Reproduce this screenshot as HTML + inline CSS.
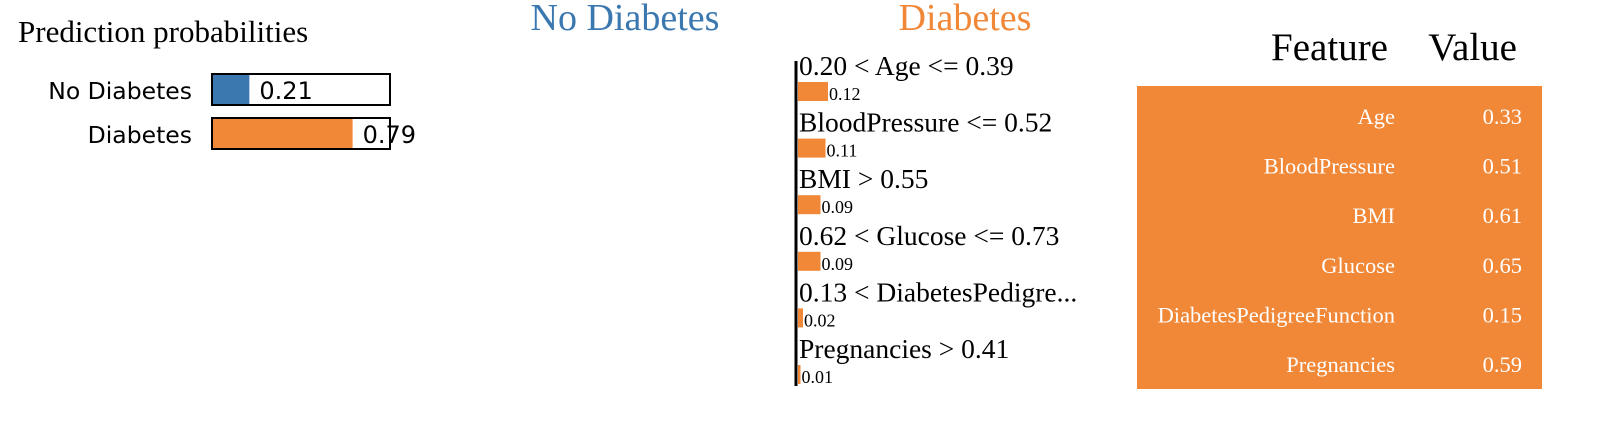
<!DOCTYPE html>
<html><head><meta charset="utf-8"><style>
html,body{margin:0;padding:0;background:#fff;width:1612px;height:432px;overflow:hidden}
svg{display:block}
.serif{font-family:"Liberation Serif",serif}
.sans{font-family:"DejaVu Sans","Liberation Sans",sans-serif}
</style></head><body>
<svg id="chart" width="1612" height="432" xmlns="http://www.w3.org/2000/svg"></svg>
<script>
const probClasses = ["No Diabetes", "Diabetes"];
const probValues = [0.21, 0.79];
const probLabels = ["0.21", "0.79"];
const featLabels = ["0.20 < Age <= 0.39","BloodPressure <= 0.52","BMI > 0.55","0.62 < Glucose <= 0.73","0.13 < DiabetesPedigre...","Pregnancies > 0.41"];
const featWeights = [0.12, 0.11, 0.09, 0.09, 0.02, 0.01];
const weightLabels = ["0.12","0.11","0.09","0.09","0.02","0.01"];
const tableFeatures = ["Age","BloodPressure","BMI","Glucose","DiabetesPedigreeFunction","Pregnancies"];
const tableValues = ["0.33","0.51","0.61","0.65","0.15","0.59"];

const NS="http://www.w3.org/2000/svg";
const svg=document.getElementById('chart');
const BLUE="#3b78b0", ORANGE="#f08838";
function mk(tag,attrs,parent){const e=document.createElementNS(NS,tag);for(const k in attrs)e.setAttribute(k,attrs[k]);(parent||svg).appendChild(e);return e;}
function txt(s,attrs,parent){const e=mk('text',attrs,parent);e.textContent=s;return e;}

const g1=mk('g',{});


let t=txt("Prediction probabilities",{x:18,y:42,class:'serif','font-size':31,fill:'#000'},g1);


const pbX=212,pbW=178;
const px=v=>v*pbW;
probValues.forEach((v,i)=>{
  const y=74+i*44;
  const colr=i===0?BLUE:ORANGE;
  let l=txt(probClasses[i],{x:192,y:y+25,'text-anchor':'end',class:'sans','font-size':23.5,fill:'#000'},g1);
  
  
  let b=mk('rect',{x:pbX,y:y,width:px(v),height:31,fill:colr},g1);
  
  
  let o=mk('rect',{x:pbX,y:y,width:pbW,height:31,fill:'none',stroke:'#000','stroke-width':2},g1);
  
  
  let vl=txt(probLabels[i],{x:pbX+px(v)+10,y:y+25,class:'sans','font-size':24,fill:'#000'},g1);
  
  
});

let h1=txt("No Diabetes",{x:625,y:30,'text-anchor':'middle',class:'serif','font-size':38,fill:BLUE});


let h2=txt("Diabetes",{x:965,y:30,'text-anchor':'middle',class:'serif','font-size':38,fill:ORANGE});



const g2=mk('g',{});


const ax=798, scale=250, pitch=56.6;
const wx=v=>v*scale;
featWeights.forEach((v,i)=>{
  const y0=56+i*pitch;
  let l=txt(featLabels[i],{x:ax+1,y:y0+19,class:'serif','font-size':27.5,fill:'#000'},g2);
  
  
  let b=mk('rect',{x:ax,y:y0+26,width:wx(v),height:19,fill:ORANGE},g2);
  
  
  let vl=txt(weightLabels[i],{x:ax+wx(v)+1,y:y0+44,class:'serif','font-size':18,fill:'#000'},g2);
  
  
});
let axl=mk('line',{x1:796,y1:61,x2:796,y2:386,stroke:'#000','stroke-width':3},g2);



const g3=mk('g',{});


let th1=txt("Feature",{x:1388,y:60,'text-anchor':'end',class:'serif','font-size':39,fill:'#000'},g3);


let th2=txt("Value",{x:1517,y:60,'text-anchor':'end',class:'serif','font-size':39,fill:'#000'},g3);


let bg=mk('rect',{x:1137,y:86,width:405,height:303,fill:ORANGE},g3);


tableFeatures.forEach((f,i)=>{
  const y=124+i*49.6;
  let a=txt(f,{x:1395,y:y,'text-anchor':'end',class:'serif','font-size':22.5,fill:'#fff'},g3);
  
  
  let b=txt(tableValues[i],{x:1522,y:y,'text-anchor':'end',class:'serif','font-size':22.5,fill:'#fff'},g3);
  
  
});
</script>
</body></html>
